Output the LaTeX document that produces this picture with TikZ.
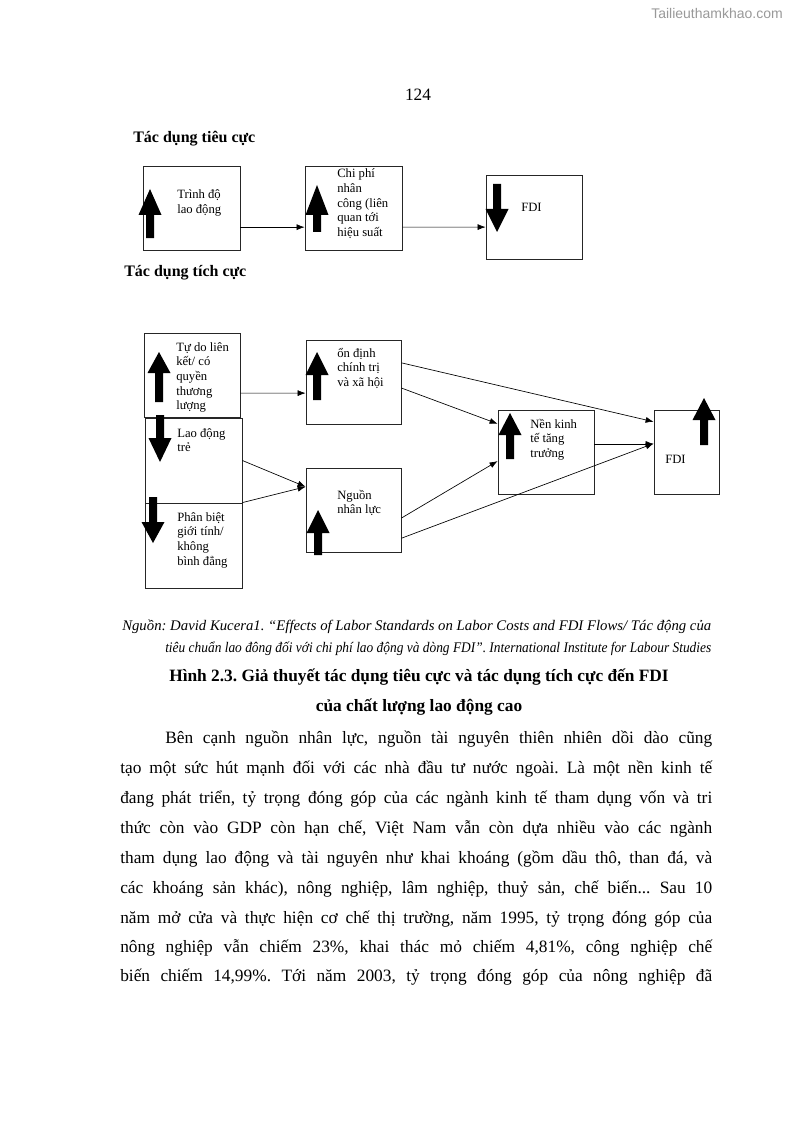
\documentclass[tikz,border=0pt]{standalone}
\usepackage{fontspec}
\setmainfont{Liberation Serif}
\setsansfont{Liberation Sans}
\usetikzlibrary{arrows.meta,fit,calc}
\frenchspacing

% thick block arrows: x, first y, second y, third y
\newcommand\arrup[4]{\fill (#1,#2) -- (#1+11.5,#3) -- (#1+4,#3) -- (#1+4,#4) -- (#1-4,#4) -- (#1-4,#3) -- (#1-11.5,#3) -- cycle;}
\newcommand\arrdown[4]{\fill (#1-4,#2) -- (#1+4,#2) -- (#1+4,#3) -- (#1+11.5,#3) -- (#1,#4) -- (#1-11.5,#3) -- (#1-4,#3) -- cycle;}
% lines of a label, first baseline on top
\newcommand\stack[1]{\vtop{\let\\\cr\halign{##\hfil\cr#1\crcr}}}

\begin{document}
\begin{tikzpicture}[
  x=0.75pt, y=-0.75pt,
  box/.style={draw=black!85, line width=0.6pt, inner sep=0pt},
  lbl/.style={anchor=base west, inner sep=0pt, font=\fontsize{9.5}{11}\selectfont},
  head/.style={anchor=base west, inner sep=0pt, font=\fontsize{12}{14}\selectfont\bfseries},
  conn/.style={-{Latex[length=6pt,width=4.5pt]}, line width=0.5pt},
  body/.style={anchor=base west, inner sep=0pt, font=\fontsize{13}{16}\selectfont},
  capt/.style={anchor=base, inner sep=0pt, font=\fontsize{13}{16}\selectfont\bfseries},
  src/.style={anchor=base west, inner sep=0pt, font=\fontsize{11}{13}\selectfont\itshape}
]
  \fill[white] (0,0) rectangle (794,1123);
  \useasboundingbox (0,0) rectangle (794,1123);

  % page header
  \node[anchor=base, inner sep=0pt, text=black!40, font=\sffamily\fontsize{10.5}{12}\selectfont] (site) at (717,19) {Tailieuthamkhao.com};
  \node[anchor=base, inner sep=0pt, font=\fontsize{13}{16}\selectfont] (pageno) at (418,101) {124};

  % negative effect
  \node[head] (neg) at (133,143) {Tác dụng tiêu cực};
  \node[box, fit={(143,166) (240,250)}] (lvl) {};
  \node[box, fit={(305,166) (402,250)}] (cost) {};
  \node[box, fit={(486,175) (582,259)}] (fdin) {};
  \node[lbl] (lvl-t) at (177,199) {\stack{Trình độ\\lao động}};
  \node[lbl] (cost-t) at (337,178) {\stack{Chi phí\\nhân\\công (liên\\quan tới\\hiệu suất}};
  \node[lbl] (fdin-t) at (521,212) {FDI};
  \arrup{150}{189}{215}{238}
  \arrup{317}{185}{215}{232}
  \arrdown{497}{184}{209}{232}
  \draw[conn] ($(lvl.north east)!0.726!(lvl.south east)$) -- ($(cost.north west)!0.726!(cost.south west)$);
  \draw[conn] ($(cost.north east)!0.726!(cost.south east)$) -- ($(fdin.north west)!0.619!(fdin.south west)$);

  % positive effect
  \node[head] (pos) at (124,276) {Tác dụng tích cực};
  \node[box, fit={(144,333) (240,417)}] (free) {};
  \node[box, fit={(145,418) (242,503)}] (young) {};
  \node[box, fit={(145,503) (242,588)}] (gender) {};
  \node[box, fit={(306,340) (401,424)}] (stab) {};
  \node[box, fit={(306,468) (401,552)}] (hr) {};
  \node[box, fit={(498,410) (594,494)}] (growth) {};
  \node[box, fit={(654,410) (719,494)}] (fdip) {};
  \node[lbl] (free-t) at (176,351) {\stack{Tự do liên\\kết/ có\\quyền\\thương\\lượng}};
  \node[lbl] (young-t) at (177,437) {\stack{Lao động\\trẻ}};
  \node[lbl] (gender-t) at (177,521) {\stack{Phân biệt\\giới tính/\\không\\bình đẳng}};
  \node[lbl] (stab-t) at (337,357) {\stack{ổn định\\chính trị\\và xã hội}};
  \node[lbl] (hr-t) at (337,499) {\stack{Nguồn\\nhân lực}};
  \node[lbl] (growth-t) at (530,428) {\stack{Nền kinh\\tế tăng\\trưởng}};
  \node[lbl] (fdip-t) at (665,463) {FDI};
  \arrup{159}{352}{373}{402}
  \arrdown{160}{415}{438}{462}
  \arrdown{153}{497}{522}{543}
  \arrup{317}{352}{375}{400}
  \arrup{318}{510}{533}{555}
  \arrup{510}{413}{435}{459}
  \arrup{704}{398}{420}{445}
  \draw[conn] ($(free.north east)!0.714!(free.south east)$) -- ($(stab.north west)!0.631!(stab.south west)$);
  \draw[conn] (young.east) -- ($(hr.north west)!0.226!(hr.south west)$);
  \draw[conn] (gender.north east) -- ($(hr.north west)!0.226!(hr.south west)$);
  \draw[conn] ($(stab.north east)!0.274!(stab.south east)$) -- ($(fdip.north west)!0.143!(fdip.south west)$);
  \draw[conn] ($(stab.north east)!0.571!(stab.south east)$) -- ($(growth.north west)!0.167!(growth.south west)$);
  \draw[conn] ($(growth.north east)!0.405!(growth.south east)$) -- ($(fdip.north west)!0.405!(fdip.south west)$);
  \draw[conn] ($(hr.north east)!0.595!(hr.south east)$) -- ($(growth.north west)!0.607!(growth.south west)$);
  \draw[conn] ($(hr.north east)!0.833!(hr.south east)$) -- ($(fdip.north west)!0.4!(fdip.south west)$);

  % source and caption
  \node[src] (src1) at (122,630) {\resizebox{441.75pt}{\height}{Nguồn: David Kucera1. “Effects of Labor Standards on Labor Costs and FDI Flows/ Tác động của}};
  \node[src] (src2) at (165,652) {\resizebox{409.5pt}{\height}{tiêu chuẩn lao đông đối với chi phí lao động và dòng FDI”. International Institute for Labour Studies}};
  \node[capt] (cap1) at (419,681) {Hình 2.3. Giả thuyết tác dụng tiêu cực và tác dụng tích cực đến FDI};
  \node[capt] (cap2) at (419,711) {của chất lượng lao động cao};

  % body text
  \node[body] (l1) at (165,743) {\makebox[410.25pt][s]{Bên cạnh nguồn nhân lực, nguồn tài nguyên thiên nhiên dồi dào cũng}};
  \node[body] (l2) at (120,773) {\makebox[444pt][s]{tạo một sức hút mạnh đối với các nhà đầu tư nước ngoài. Là một nền kinh tế}};
  \node[body] (l3) at (120,803) {\makebox[444pt][s]{đang phát triển, tỷ trọng đóng góp của các ngành kinh tế tham dụng vốn và tri}};
  \node[body] (l4) at (120,833) {\makebox[444pt][s]{thức còn vào GDP còn hạn chế, Việt Nam vẫn còn dựa nhiều vào các ngành}};
  \node[body] (l5) at (120,863) {\makebox[444pt][s]{tham dụng lao động và tài nguyên như khai khoáng (gồm dầu thô, than đá, và}};
  \node[body] (l6) at (120,893) {\makebox[444pt][s]{các khoáng sản khác), nông nghiệp, lâm nghiệp, thuỷ sản, chế biến... Sau 10}};
  \node[body] (l7) at (120,923) {\makebox[444pt][s]{năm mở cửa và thực hiện cơ chế thị trường, năm 1995, tỷ trọng đóng góp của}};
  \node[body] (l8) at (120,952) {\makebox[444pt][s]{nông nghiệp vẫn chiếm 23\%, khai thác mỏ chiếm 4,81\%, công nghiệp chế}};
  \node[body] (l9) at (120,981) {\makebox[444pt][s]{biến chiếm 14,99\%. Tới năm 2003, tỷ trọng đóng góp của nông nghiệp đã}};
\end{tikzpicture}
\end{document}
